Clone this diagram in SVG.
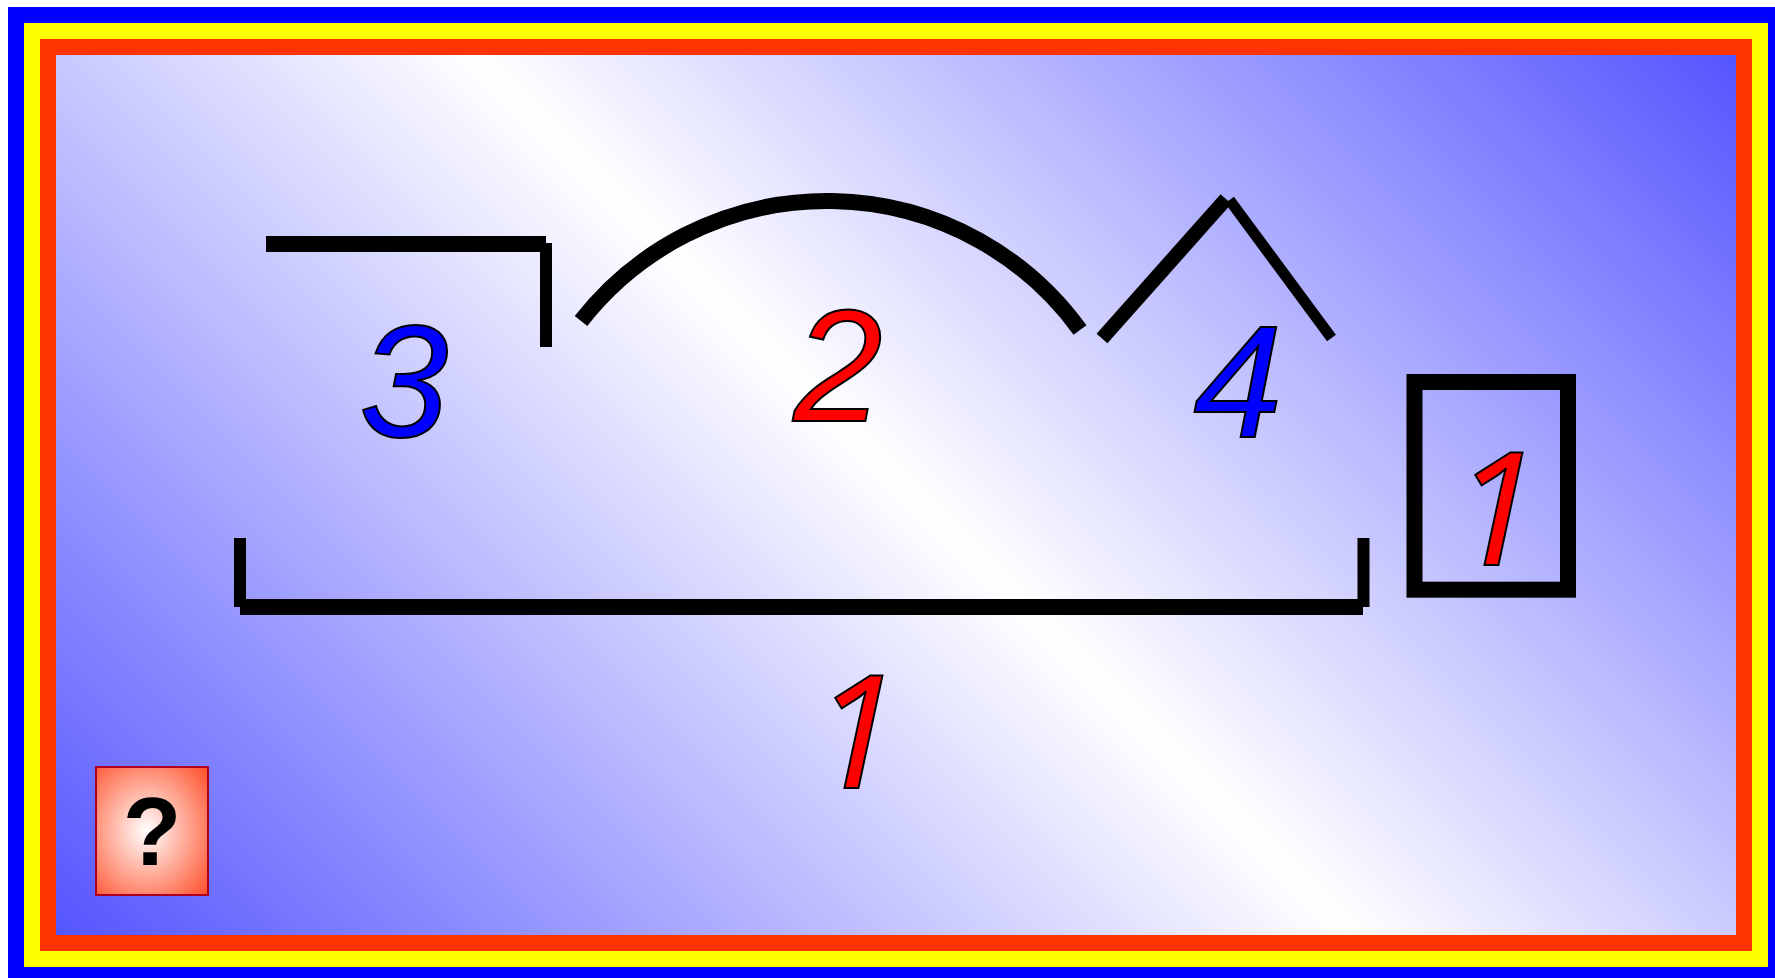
<svg xmlns="http://www.w3.org/2000/svg" width="1775" height="978" viewBox="0 0 1775 978">
<style>
.ln{stroke:#000;fill:none;stroke-linecap:butt}
.num{font-family:"Liberation Sans",Arial,sans-serif;font-style:italic;font-size:160px;stroke:#000;stroke-width:2;text-anchor:middle}
.one{font-family:"Noto Sans",Arial,sans-serif;font-size:157px}
.red{fill:#ff0000}
.blue{fill:#0000ff}
</style>
<defs>
<linearGradient id="bg" gradientUnits="userSpaceOnUse" x1="256" y1="1135" x2="1536" y2="-145">
<stop offset="0" stop-color="#5555ff"/>
<stop offset="0.507" stop-color="#ffffff"/>
<stop offset="1" stop-color="#5555ff"/>
</linearGradient>
<radialGradient id="help" cx="0.45" cy="0.5" r="0.75">
<stop offset="0" stop-color="#ffffff"/>
<stop offset="1" stop-color="#ff4a22"/>
</radialGradient>
</defs>
<g id="frame">
<rect x="8" y="7" width="1767" height="971" fill="#0000ff"/>
<rect x="24" y="23" width="1744" height="944" fill="#ffff00"/>
<rect x="40" y="39" width="1712" height="912" fill="#ff3300"/>
<rect x="56" y="55" width="1680" height="880" fill="url(#bg)"/>
</g>
<g id="connectors">
<line class="ln" x1="266" y1="244" x2="546" y2="244" stroke-width="16"/>
<line class="ln" x1="546" y1="243" x2="546" y2="347" stroke-width="12"/>
<path class="ln" d="M581 321 A312.4 312.4 0 0 1 1080 330" stroke-width="16"/>
<line class="ln" x1="1102" y1="338.5" x2="1226" y2="199" stroke-width="14.5"/>
<line class="ln" x1="1229.5" y1="200" x2="1331.5" y2="338" stroke-width="11"/>
<line class="ln" x1="240" y1="607" x2="1363" y2="607" stroke-width="16"/>
<line class="ln" x1="240" y1="538" x2="240" y2="607" stroke-width="12"/>
<line class="ln" x1="1363.5" y1="538" x2="1363.5" y2="607" stroke-width="12"/>
<rect class="ln" x="1414.5" y="382" width="153.5" height="207.7" stroke-width="16"/>
</g>
<g id="label3"><text class="num blue" x="404" y="436">3</text></g>
<g id="label2"><text class="num red" x="838" y="421">2</text></g>
<g id="label4"><text class="num blue" x="1238" y="437">4</text></g>
<g id="label1box"><text class="num one red" x="1496" y="565">1</text></g>
<g id="label1"><text class="num one red" x="856" y="788">1</text></g>
<g id="help-button">
<rect x="96" y="767" width="112" height="128" fill="url(#help)" stroke="#b00020" stroke-width="2"/>
<text x="152" y="865" font-family="Liberation Sans,Arial,sans-serif" font-weight="bold" font-size="96" text-anchor="middle" fill="#000">?</text>
</g>
</svg>
